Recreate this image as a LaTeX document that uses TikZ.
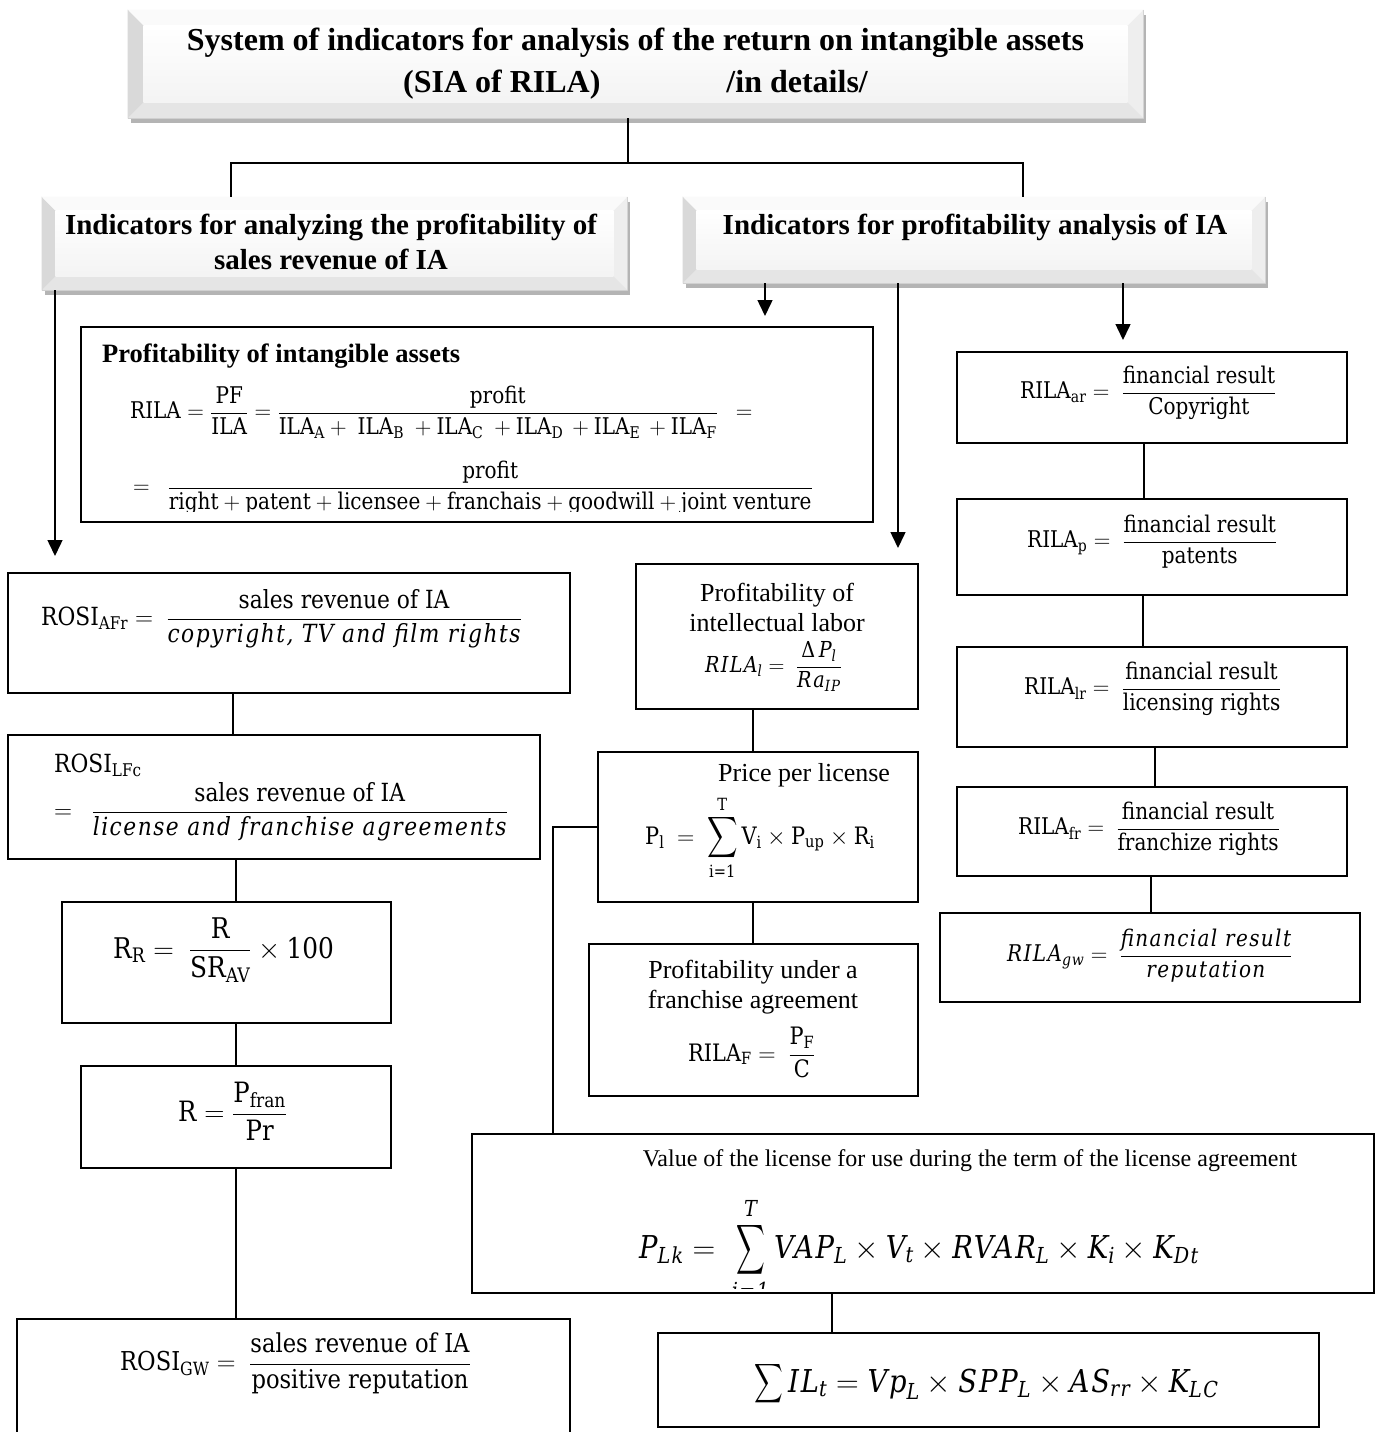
\RequirePackage{fix-cm}
\documentclass[tikz,border=0pt]{standalone}
\usepackage{amsmath}
\usepackage[no-math]{fontspec}
\setmainfont{Liberation Serif}
\newfontfamily\cam{DejaVu Serif}[FakeStretch=0.87]
\newfontfamily\camit{DejaVu Serif}[FakeStretch=0.87,LetterSpace=6]
\usetikzlibrary{arrows.meta,calc,fit,shadows}

% upright and italic words inside formulas
\newcommand\cw[1]{\text{\cam #1}}
\newcommand\ci[1]{\text{\camit\itshape #1}}
% a taller summation sign: #1 horizontal, #2 vertical scale
\newcommand\tallsum[2]{\mathop{\vcenter{\hbox{\scalebox{#1}[#2]{$\displaystyle\sum$}}}}}

% raised "bevel" faces on a header node: #1 = node name, #2 = bevel depth
\newcommand\bevelfaces[2]{%
  \fill[gray!30] (#1.north west) -- ($(#1.north west)+(#2,#2)$) -- ($(#1.south west)+(#2,-#2)$) -- (#1.south west) -- cycle;
  \fill[gray!13] (#1.north east) -- ($(#1.north east)+(-#2,#2)$) -- ($(#1.south east)+(-#2,-#2)$) -- (#1.south east) -- cycle;
  \fill[gray!4]  (#1.north west) -- ($(#1.north west)+(#2,#2)$) -- ($(#1.north east)+(-#2,#2)$) -- (#1.north east) -- cycle;
  \fill[gray!20] (#1.south west) -- ($(#1.south west)+(#2,-#2)$) -- ($(#1.south east)+(-#2,-#2)$) -- (#1.south east) -- cycle;
  \shade[top color=white,bottom color=gray!9] ($(#1.north west)+(#2,#2)$) rectangle ($(#1.south east)+(-#2,-#2)$);
}

\begin{document}
\begin{tikzpicture}[x=1pt,y=-1pt,
  box/.style={draw=black,line width=1.8pt,inner sep=0pt},
  hdr/.style={fill=gray!10,draw=gray!45,line width=.6pt,inner sep=0pt,
    drop shadow={shadow xshift=3pt,shadow yshift=-5pt,fill=gray!70!black,opacity=.45}},
  conn/.style={line width=1.5pt},
  arr/.style={line width=1.5pt,-{Triangle[width=15pt,length=16pt]}},
  txt/.style={inner sep=0pt},
  serif/.style={txt,font=\fontsize{26}{30}\selectfont,align=center},
  hd/.style={txt,font=\bfseries\fontsize{29}{35}\selectfont,align=center},
  fm/.style={txt,anchor=base west,font=\fontsize{#1}{#1}\selectfont},
]
\useasboundingbox (0,0) rectangle (1381,1432);
\fill[white] (0,0) rectangle (1381,1432);

% ---------- headers ----------
\node[hdr,fit={(128,10)(1143,118)}] (title) {};
\bevelfaces{title}{16}
\node[txt,font=\bfseries\fontsize{32}{42}\selectfont,align=center] (ttl) at (635.5,64)
  {System of indicators for analysis of the return on intangible assets\\(SIA of RILA)\hspace{126pt}/in details/};

\node[hdr,fit={(42,197)(627,290)}] (hl) {};
\bevelfaces{hl}{14}
\node[hd] (hlt) at (331,242) {Indicators for analyzing the profitability of\\sales revenue of IA};

\node[hdr,fit={(683,197)(1265,283)}] (hr) {};
\bevelfaces{hr}{14}
\node[hd] (hrt) at (975,227) {Indicators for profitability analysis of IA};

% title branches
\coordinate (jt) at (628,163);
\coordinate (jl) at (231,163);
\coordinate (jr) at (1023,163);
\draw[conn] (jt |- title.south) -- (jt);
\draw[conn] (jl |- hl.north) -- (jl) -- (jr) -- (jr |- hr.north);

% arrows out of the headers
\coordinate (ta) at (55,556);
\coordinate (tb) at (765,316);
\coordinate (tc) at (898,548);
\coordinate (td) at (1123,340);
\draw[arr] (ta |- hl.south) -- (ta);
\draw[arr] (tb |- hr.south) -- (tb);
\draw[arr] (tc |- hr.south) -- (tc);
\draw[arr] (td |- hr.south) -- (td);

% ---------- profitability of intangible assets ----------
\node[box,fit={(81,327)(873,522)}] (pia) {};
\node[txt,anchor=west,font=\bfseries\fontsize{26.5}{30}\selectfont] (piat) at (102,356) {Profitability of intangible assets};
\node[fm=23] (pia1) at (130,418.75)
  {$\cw{RILA}=\dfrac{\cw{PF}}{\cw{ILA}}=\dfrac{\cw{profit}}{\cw{ILA}_{\cw{A}}+\ \cw{ILA}_{\cw{B}}\ +\cw{ILA}_{\cw{C}}\ +\cw{ILA}_{\cw{D}}\,+\cw{ILA}_{\cw{E}}\,+\cw{ILA}_{\cw{F}}}\ \ =$};
\begin{scope}
  \clip (pia.north west) rectangle ($(pia.south east)+(0,-11)$);
  \node[fm=23] (pia2) at (133,493.75)
    {$=\ \ \dfrac{\cw{profit}}{\cw{right}+\cw{patent}+\cw{licensee}+\cw{franchais}+\cw{goodwill}+\cw{joint venture}}$};
\end{scope}

% ---------- right column ----------
\node[box,fit={(957,352)(1347,443)}] (ar) {};
\node[fm=23] (art) at (1020,398.75) {$\cw{RILA}_{\cw{ar}}=\ \dfrac{\cw{financial result}}{\cw{Copyright}}$};
\node[box,fit={(957,499)(1347,595)}] (pt) {};
\node[fm=23] (ptt) at (1027,547.75) {$\cw{RILA}_{\cw{p}}=\ \dfrac{\cw{financial result}}{\cw{patents}}$};
\node[box,fit={(957,647)(1347,747)}] (lr) {};
\node[fm=23] (lrt) at (1024,694.75) {$\cw{RILA}_{\cw{lr}}=\ \dfrac{\cw{financial result}}{\cw{licensing rights}}$};
\node[box,fit={(957,787)(1347,876)}] (fr) {};
\node[fm=23] (frt) at (1018,834.75) {$\cw{RILA}_{\cw{fr}}=\ \dfrac{\cw{financial result}}{\cw{franchize rights}}$};
\node[box,fit={(940,913)(1360,1002)}] (gw) {};
\node[fm=23] (gwt) at (1007,961.75) {$\ci{RILA}_{\ci{gw}}=\ \dfrac{\ci{financial result}}{\ci{reputation}}$};

\coordinate (r1) at (1144,0);
\coordinate (r2) at (1143,0);
\coordinate (r3) at (1155,0);
\coordinate (r4) at (1151,0);
\draw[conn] (r1 |- ar.south) -- (r1 |- pt.north);
\draw[conn] (r2 |- pt.south) -- (r2 |- lr.north);
\draw[conn] (r3 |- lr.south) -- (r3 |- fr.north);
\draw[conn] (r4 |- fr.south) -- (r4 |- gw.north);

% ---------- middle column ----------
\node[box,fit={(636,564)(918,709)}] (il) {};
\node[serif] (ilt) at (777,607) {Profitability of\\intellectual labor};
\node[fm=22] (ilf) at (705,672.5) {$\ci{RILA}_{\ci{l}}=\ \dfrac{\cw{Δ}\,\ci{P}_{\ci{l}}}{\ci{Ra}_{\ci{IP}}}$};

\node[box,fit={(598,752)(918,902)}] (pl) {};
\node[txt,anchor=west,font=\fontsize{26}{30}\selectfont] (plt) at (718,775) {Price per license};
\node[fm=24] (plf) at (645,844) {$\cw{P}_{\cw{l}}\ =\ \tallsum{0.85}{1.15}\limits_{\cw{i=1}}^{\cw{T}}\cw{V}_{\cw{i}}\times\cw{P}_{\cw{up}}\times\cw{R}_{\cw{i}}$};

\node[box,fit={(589,944)(918,1096)}] (fb) {};
\node[serif] (fbt) at (753,987.5) {Profitability under a\\franchise agreement};
\node[fm=24] (fbf) at (688,1061) {$\cw{RILA}_{\cw{F}}=\ \dfrac{\cw{P}_{\cw{F}}}{\cw{C}}$};

\coordinate (m1) at (753,0);
\draw[conn] (m1 |- il.south) -- (m1 |- pl.north);
\draw[conn] (m1 |- pl.south) -- (m1 |- fb.north);

% ---------- license value ----------
\node[box,fit={(472,1134)(1374,1293)}] (lv) {};
\node[txt,font=\fontsize{24}{28}\selectfont] (lvt) at (970,1161) {Value of the license for use during the term of the license agreement};
\begin{scope}
  \clip (lv.north west) rectangle ($(lv.south east)+(0,-5)$);
  \node[fm=31.5] (lvf) at (639,1258) {$\ci{P}_{\ci{Lk}}=\ \tallsum{0.8}{1.4}\limits_{\ci{i=1}}^{\ci{T}\rule[-3pt]{0pt}{0pt}}\ci{VAP}_{\ci{L}}\times\ci{V}_{\ci{t}}\times\ci{RVAR}_{\ci{L}}\times\ci{K}_{\ci{i}}\times\ci{K}_{\ci{Dt}}$};
\end{scope}

\coordinate (m2) at (553,0);
\draw[conn] (pl.west) -| (m2 |- lv.north);

\node[box,fit={(658,1333)(1319,1427)}] (ilb) {};
\node[fm=31.5] (ilbf) at (754,1392) {$\tallsum{0.8}{1.1}\ci{IL}_{\ci{t}}=\ci{Vp}_{\ci{L}}\times\ci{SPP}_{\ci{L}}\times\ci{AS}_{\ci{rr}}\times\ci{K}_{\ci{LC}}$};

\coordinate (m3) at (832,0);
\draw[conn] (m3 |- lv.south) -- (m3 |- ilb.north);

% ---------- left column ----------
\node[box,fit={(8,573)(570,693)}] (afr) {};
\node[fm=25] (afrf) at (41,625.25) {$\cw{ROSI}_{\cw{AFr}}=\ \dfrac{\cw{sales revenue of IA}}{\ci{copyright, TV and film rights}}$};

\node[box,fit={(8,735)(540,859)}] (lfc) {};
\node[fm=25] (lfcn) at (54,772) {$\cw{ROSI}_{\cw{LFc}}$};
\node[fm=25] (lfcf) at (54,818.25) {$=\ \ \dfrac{\cw{sales revenue of IA}}{\ci{license and franchise agreements}}$};

\node[box,fit={(62,902)(391,1023)}] (rr) {};
\node[fm=28.5] (rrf) at (113,958) {$\cw{R}_{\cw{R}}=\ \dfrac{\cw{R}}{\cw{SR}_{\cw{AV}}}\times\cw{100}$};

\node[box,fit={(81,1066)(391,1168)}] (rb) {};
\node[fm=28] (rbf) at (178,1121) {$\cw{R}=\dfrac{\cw{P}_{\cw{fran}}}{\cw{Pr}}$};

\node[inner sep=0pt,fit={(17,1319)(570,1432)}] (gwl) {};
\draw[line width=1.8pt] (gwl.south west) |- (gwl.north east) -- (gwl.south east);
\node[fm=26] (gwlf) at (120,1370.5) {$\cw{ROSI}_{\cw{GW}}=\ \dfrac{\cw{sales revenue of IA}}{\cw{positive reputation}}$};

\coordinate (l1) at (233,0);
\coordinate (l2) at (236,0);
\draw[conn] (l1 |- afr.south) -- (l1 |- lfc.north);
\draw[conn] (l2 |- lfc.south) -- (l2 |- rr.north);
\draw[conn] (l2 |- rr.south) -- (l2 |- rb.north);
\draw[conn] (l2 |- rb.south) -- (l2 |- gwl.north);
\end{tikzpicture}
\end{document}
